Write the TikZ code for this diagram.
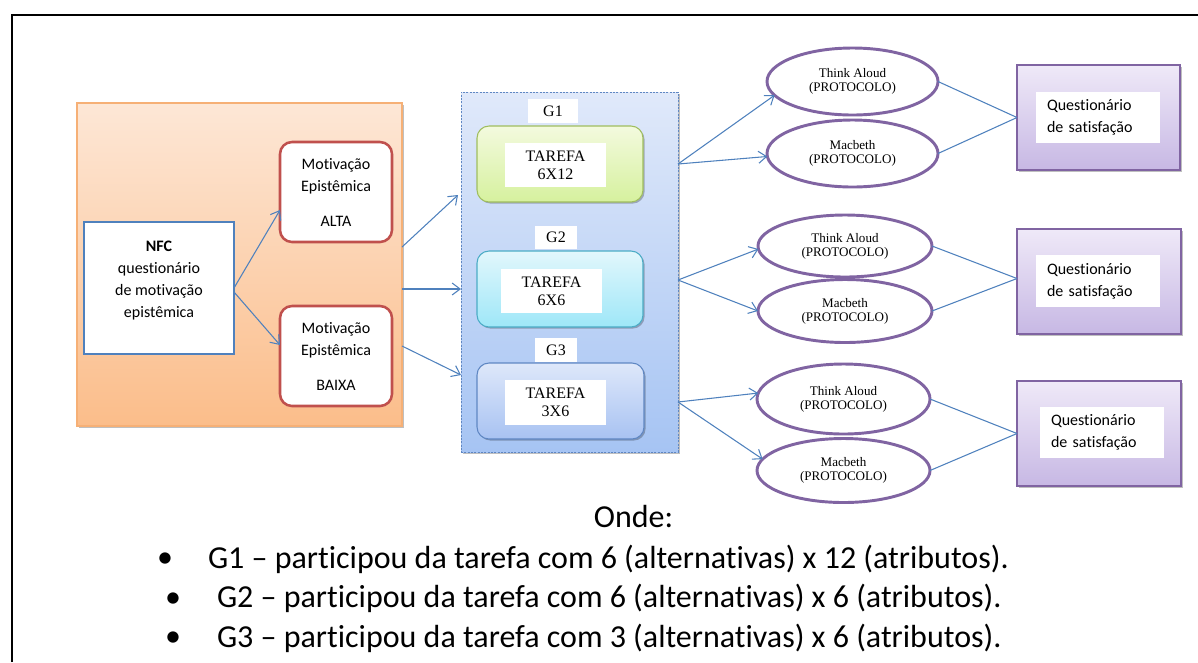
\documentclass[tikz,border=0pt]{standalone}
\usepackage{fontspec}
\setmainfont{Carlito}[Ligatures={NoCommon}]
\newfontfamily\tnr{Liberation Serif}
\usetikzlibrary{arrows.meta,shadows,calc,shapes.geometric}
\definecolor{arrowc}{RGB}{79,129,189}
\definecolor{orTop}{RGB}{253,231,214}
\definecolor{orBot}{RGB}{251,189,138}
\definecolor{orBorder}{RGB}{246,176,118}
\definecolor{paTop}{RGB}{224,233,250}
\definecolor{paBot}{RGB}{166,196,243}
\definecolor{paBorder}{RGB}{95,135,195}
\definecolor{gaTop}{RGB}{243,250,222}
\definecolor{gaBot}{RGB}{214,241,158}
\definecolor{gaBorder}{RGB}{160,190,95}
\definecolor{gbTop}{RGB}{226,247,252}
\definecolor{gbBot}{RGB}{158,231,248}
\definecolor{gbBorder}{RGB}{75,172,198}
\definecolor{gcTop}{RGB}{222,232,250}
\definecolor{gcBot}{RGB}{168,194,242}
\definecolor{gcBorder}{RGB}{95,135,195}
\definecolor{qTop}{RGB}{239,233,248}
\definecolor{qBot}{RGB}{199,184,228}
\definecolor{purp}{RGB}{128,100,162}
\definecolor{redb}{RGB}{192,80,77}
\definecolor{blueb}{RGB}{79,129,189}
\begin{document}
\begin{tikzpicture}[x=0.75pt,y=-0.75pt,
  every node/.style={inner sep=0pt, outer sep=0pt},
  sz/.style 2 args={minimum width=#1*0.75pt, minimum height=#2*0.75pt},
  shad/.style={drop shadow={shadow xshift=1.2pt, shadow yshift=-1.2pt, opacity=0.25, fill=black}},
  cal/.style={font=\fontsize{12}{16.5}\selectfont, align=center},
  tms/.style={font=\tnr\fontsize{12}{13.5}\selectfont, align=center},
  ell/.style={ellipse, draw=purp, line width=2.2pt, fill=white, font=\tnr\fontsize{9.8}{10.5}\selectfont, align=center},
  motiv/.style={draw=redb, line width=1.9pt, rounded corners=9pt, fill=white, cal},
  taskbox/.style={rounded corners=9pt, line width=0.8pt, shad},
  whitebox/.style={fill=white},
  qbox/.style={draw=purp, line width=0.8pt, top color=qTop, bottom color=qBot, shad},
  arr/.style={draw=arrowc, line width=0.8pt, -{Straight Barb[length=6pt,width=9pt]}},
  lnk/.style={draw=arrowc, line width=0.8pt},
  big/.style={font=\fontsize{24}{28}\selectfont}
]
\useasboundingbox (0,0) rectangle (1198,662);
% outer frame
\draw[line width=1.7pt] (12,662) -- (12,15) -- (1198,15);

% left orange panel
\node[shad, draw=orBorder, line width=0.8pt, top color=orTop, bottom color=orBot, sz={325}{323}] (orange) at (239.5,264.5) {};
\node[draw=blueb, line width=1.7pt, fill=white, sz={150}{132}] (nfc) at (159,288) {};
\node[cal] (nfctxt) at ($(nfc.center)+(0,-7)$) {\textbf{NFC}\\questionário\\de motivação\\epistêmica};
\node[motiv, sz={112}{100}] (alta) at (336,192) {Motivação\\Epistêmica\\[9.75pt]ALTA};
\node[motiv, sz={112}{100}] (baixa) at (336,356) {Motivação\\Epistêmica\\[9.75pt]BAIXA};
\draw[arr] (nfc.east) -- ($(alta.west)+(0,18)$);
\draw[arr] ($(nfc.east)+(0,4)$) -- ($(baixa.west)+(0,-11)$);

% middle blue panel
\node[shad, draw=paBorder, line width=0.6pt, dash pattern=on 1.5pt off 1pt, top color=paTop, bottom color=paBot, sz={217}{360}] (panel) at (569.5,272) {};
\node[whitebox, tms, sz={50}{24}] (g1) at (553,111) {G1};
\node[whitebox, tms, sz={42}{23}] (g2) at (556,237.5) {G2};
\node[whitebox, tms, sz={42}{24}] (g3) at (556,350) {G3};
\node[taskbox, draw=gaBorder, top color=gaTop, bottom color=gaBot, sz={166}{76}] (t1) at (560,164) {};
\node[whitebox, tms, sz={101}{44}] (t1in) at (555.5,165) {TAREFA\\6X12};
\node[taskbox, draw=gbBorder, top color=gbTop, bottom color=gbBot, sz={166}{76}] (t2) at (560,289) {};
\node[whitebox, tms, sz={101}{44}] (t2in) at (551.5,291) {TAREFA\\6X6};
\node[taskbox, draw=gcBorder, top color=gcTop, bottom color=gcBot, sz={167}{76}] (t3) at (560.5,401) {};
\node[whitebox, tms, sz={101}{45}] (t3in) at (555.5,402.5) {TAREFA\\3X6};

\draw[arr] ($(orange.east)+(0,-17.5)$) -- ($(panel.west)+(-3,-77)$);
\draw[arr] ($(orange.east)+(0,24.5)$) -- ($(panel.west)+(0,17)$);
\draw[arr] ($(orange.east)+(0,81.5)$) -- ($(panel.west)+(0,103)$);

% ellipses
\node[ell, sz={171}{67}] (ta1) at (852.5,81.5) {Think Aloud\\(PROTOCOLO)};
\node[ell, sz={171}{67}] (mb1) at (852.5,153.5) {Macbeth\\(PROTOCOLO)};
\node[ell, sz={174}{62}] (ta2) at (845,246) {Think Aloud\\(PROTOCOLO)};
\node[ell, sz={174}{63}] (mb2) at (845,311) {Macbeth\\(PROTOCOLO)};
\node[ell, sz={173}{70}] (ta3) at (843.5,399) {Think Aloud\\(PROTOCOLO)};
\node[ell, sz={173}{64}] (mb3) at (843.5,470.5) {Macbeth\\(PROTOCOLO)};

\coordinate (s1) at (678,164);
\coordinate (s2) at (678,280);
\coordinate (s3) at (678,402);
\draw[arr] (s1) -- (ta1.190);
\draw[arr] (s1) -- (mb1.182);
\draw[arr] (s2) -- (ta2.182);
\draw[arr] (s2) -- (mb2.180);
\draw[arr] (s3) -- (ta3.176);
\draw[arr] (s3) -- (mb3.172);

% questionnaire boxes
\node[qbox, sz={163}{105}] (q1) at (1098.5,117.5) {};
\node[whitebox, cal, align=left, anchor=west, sz={124}{51}, text width=102*0.75pt, inner xsep=11*0.75pt] (q1in) at (1036,117.5) {Questionário\\de satisfação};
\node[qbox, sz={164}{105}] (q2) at (1099,281.5) {};
\node[whitebox, cal, align=left, anchor=west, sz={124}{52}, text width=102*0.75pt, inner xsep=11*0.75pt] (q2in) at (1036,281) {Questionário\\de satisfação};
\node[qbox, sz={164}{105}] (q3) at (1099,433.5) {};
\node[whitebox, cal, align=left, anchor=west, sz={124}{51}, text width=102*0.75pt, inner xsep=11*0.75pt] (q3in) at (1040,432.5) {Questionário\\de satisfação};

\draw[lnk] (ta1.east) -- (q1.west);
\draw[lnk] (mb1.east) -- (q1.west);
\draw[lnk] (ta2.east) -- ($(q2.west)+(0,-3)$);
\draw[lnk] (mb2.east) -- ($(q2.west)+(0,-3)$);
\draw[lnk] (ta3.east) -- (q3.west);
\draw[lnk] (mb3.east) -- (q3.west);

% legend
\node[big, anchor=base] (onde) at (633.5,527) {Onde:};
\node[big] (b1) at (165,560) {•};
\node[big, anchor=base west] (l1) at (208,568) {G1 – participou da tarefa com 6 (alternativas) x 12 (atributos).};
\node[big] (b2) at (173,600) {•};
\node[big, anchor=base west] (l2) at (217,607) {G2 – participou da tarefa com 6 (alternativas) x 6 (atributos).};
\node[big] (b3) at (173,639) {•};
\node[big, anchor=base west] (l3) at (217,647) {G3 – participou da tarefa com 3 (alternativas) x 6 (atributos).};
\end{tikzpicture}
\end{document}
